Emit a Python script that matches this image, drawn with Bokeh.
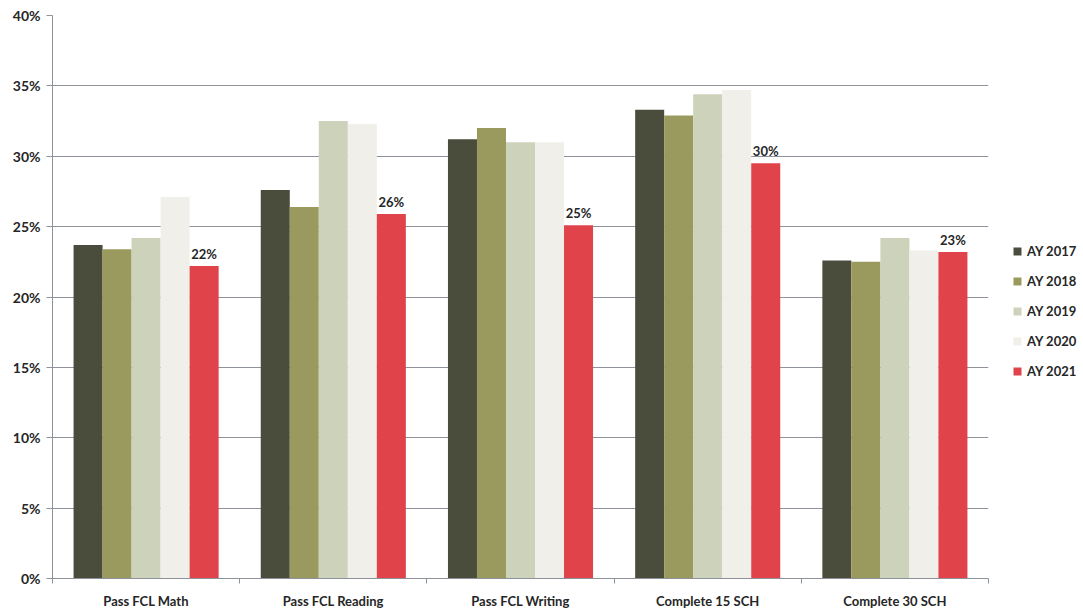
import numpy as np
from bokeh.plotting import figure
from bokeh.models import (ColumnDataSource, FixedTicker, NumeralTickFormatter,
                          Legend, LegendItem, Range1d)
from bokeh.core.properties import value
from bokeh.embed import file_html
from bokeh.resources import INLINE

categories = ["Pass FCL Math", "Pass FCL Reading", "Pass FCL Writing",
              "Complete 15 SCH", "Complete 30 SCH"]
series = ["AY 2017", "AY 2018", "AY 2019", "AY 2020", "AY 2021"]
ay2017 = [0.237, 0.276, 0.312, 0.333, 0.226]
ay2018 = [0.234, 0.264, 0.320, 0.329, 0.225]
ay2019 = [0.242, 0.325, 0.310, 0.344, 0.242]
ay2020 = [0.271, 0.323, 0.310, 0.347, 0.233]
ay2021 = [0.222, 0.259, 0.251, 0.295, 0.232]
labels2021 = ["22%", "26%", "25%", "30%", "23%"]
colors = ["#4a4d3b", "#9a9a5e", "#cdd2ba", "#f0efe9", "#e0434a"]
yticks = [0, 0.05, 0.10, 0.15, 0.20, 0.25, 0.30, 0.35, 0.40]

FONT = "Lato"
TXT = "#262626"
AXC = "#8d929b"

p = figure(width=1067, height=595, output_backend="svg", toolbar_location=None,
           x_range=Range1d(0, len(categories)), y_range=Range1d(0, 0.40),
           frame_width=936, frame_height=563,
           min_border_left=52, min_border_top=15, min_border_bottom=14,
           min_border_right=0)
p.outline_line_color = None
p.background_fill_color = "white"

centers = np.arange(len(categories)) + 0.5
bw = 0.155
offsets = [-2 * bw, -bw, 0, bw, 2 * bw]
all_vals = [ay2017, ay2018, ay2019, ay2020, ay2021]

renderers = []
for vals, off, col in zip(all_vals, offsets, colors):
    src = ColumnDataSource(dict(x=centers + off, top=vals))
    r = p.vbar(x="x", top="top", width=bw, bottom=0, source=src,
               fill_color=col, line_color=None)
    renderers.append(r)

lab_src = ColumnDataSource(dict(x=centers + offsets[4], y=ay2021, t=labels2021))
p.text(x="x", y="y", text="t", source=lab_src, text_align="center",
       text_baseline="bottom", y_offset=-4, text_font=value(FONT),
       text_font_style="bold", text_font_size="13px", text_color=TXT)

# axes
p.xaxis.ticker = FixedTicker(ticks=list(centers),
                             minor_ticks=list(range(len(categories) + 1)))
p.xaxis.major_label_overrides = {float(c): n for c, n in zip(centers, categories)}
p.xaxis.major_tick_line_color = None
p.xaxis.minor_tick_line_color = AXC
p.xaxis.minor_tick_out = 5
p.xaxis.minor_tick_in = 0
p.xaxis.axis_line_color = AXC
p.xaxis.major_label_text_font = FONT
p.xaxis.major_label_text_font_style = "bold"
p.xaxis.major_label_text_font_size = "13px"
p.xaxis.major_label_text_color = TXT
p.xaxis.major_label_standoff = 8

p.yaxis.ticker = FixedTicker(ticks=yticks)
p.yaxis.formatter = NumeralTickFormatter(format="0%")
p.yaxis.minor_tick_line_color = None
p.yaxis.major_tick_line_color = AXC
p.yaxis.major_tick_out = 6
p.yaxis.major_tick_in = 0
p.yaxis.axis_line_color = AXC
p.yaxis.major_label_text_font = FONT
p.yaxis.major_label_text_font_style = "bold"
p.yaxis.major_label_text_font_size = "14px"
p.yaxis.major_label_text_color = TXT
p.yaxis.major_label_standoff = 6

p.xgrid.grid_line_color = None
p.ygrid.grid_line_color = AXC
p.ygrid.grid_line_width = 1

legend = Legend(items=[LegendItem(label=s, renderers=[r]) for s, r in zip(series, renderers)],
                location=(24, 197), orientation="vertical")
legend.glyph_width = 10
legend.glyph_height = 10
legend.label_height = 20
legend.spacing = 10
legend.label_standoff = 5
legend.label_text_font = FONT
legend.label_text_font_style = "bold"
legend.label_text_font_size = "13px"
legend.label_text_color = TXT
legend.border_line_color = None
legend.background_fill_alpha = 0
legend.padding = 0
legend.margin = 0
p.add_layout(legend, "right")

open("out.html", "w").write(file_html(p, INLINE))
